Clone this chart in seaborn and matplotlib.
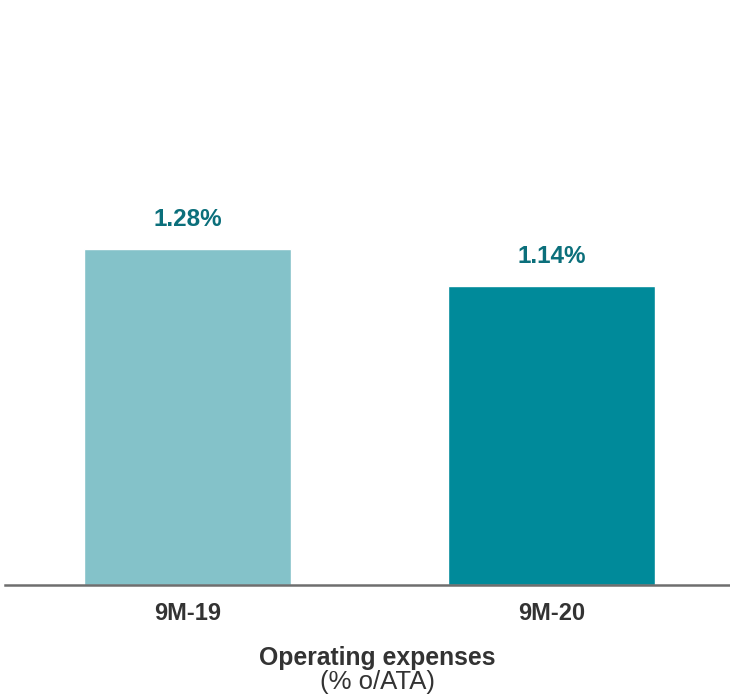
import matplotlib
matplotlib.use("Agg")
import matplotlib.pyplot as plt
import seaborn as sns
import pandas as pd

periods = ["9M-19", "9M-20"]
values = [1.28, 1.14]
bar_colors = ["#84C2C9", "#008A9A"]
label_color = "#0B6F7B"
text_color = "#333333"
title = "Operating expenses"
subtitle = "(% o/ATA)"

sns.set_theme(style="white")
plt.rcParams["font.family"] = ["Liberation Sans", "DejaVu Sans"]

df = pd.DataFrame({"period": periods, "value": values})

fig = plt.figure(figsize=(7.3, 6.96), dpi=100)
ax = fig.add_axes([5 / 730, 111 / 696, 725 / 730, 585 / 696])

sns.barplot(data=df, x="period", y="value", hue="period",
            palette=bar_colors, width=0.57, legend=False, ax=ax,
            saturation=1)

ax.set_xlim(-0.501, 1.49)
ax.set_ylim(0, 2.229)
ax.set_yticks([])
ax.set_xlabel("")
ax.set_ylabel("")
for side in ["top", "right", "left"]:
    ax.spines[side].set_visible(False)
ax.spines["bottom"].set_color("#6E6E6E")
ax.spines["bottom"].set_linewidth(1.8)

ax.tick_params(axis="x", length=0, pad=12, labelsize=17, labelcolor=text_color)
for t in ax.get_xticklabels():
    t.set_fontweight("bold")

for i, v in enumerate(values):
    ax.annotate(f"{v:.2f}%", xy=(i, v), xytext=(0, 18), textcoords="offset pixels",
                ha="center", va="bottom", fontsize=17.5, fontweight="bold",
                color=label_color)

cx = 377 / 730
fig.text(cx, 1 - 658 / 696, title, ha="center", va="center",
         fontsize=17.8, fontweight="bold", color=text_color)
fig.text(cx, 1 - 682 / 696, subtitle, ha="center", va="center",
         fontsize=18.5, color=text_color)

fig.savefig("out.png", dpi=100)
